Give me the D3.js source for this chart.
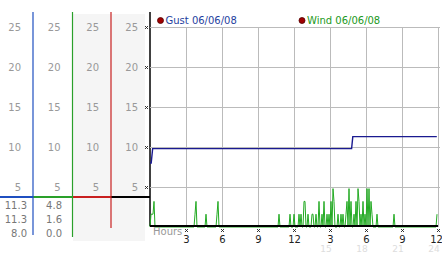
<!DOCTYPE html>
<html>
<head>
<meta charset="utf-8">
<script src="https://cdn.jsdelivr.net/npm/d3@7"></script>
<style>
body { margin: 0; background: #fff; }
text { font-family: "DejaVu Sans", Verdana, sans-serif; font-size: 10px; }
</style>
</head>
<body>
<div id="chart"></div>
<script>
// ---- data ----
var hourTicks = [3, 6, 9, 12, 15, 18, 21, 24];
var hourLabels = ["3", "6", "9", "12", "3", "6", "9", "12"];
var lateHours = [15, 18, 21, 24];
var lateLabels = ["15", "18", "21", "24"];
var yTicks = [5, 10, 15, 20, 25];

var legendNames = ["Gust 06/06/08", "Wind 06/06/08"];

// gust, hours and mph
var gustHours = [0, 0.1, 0.22, 16.8, 16.9, 23.9];
var gustValues = [8.0, 8.0, 9.8, 9.8, 11.3, 11.3];

// wind, one sample every 5 minutes (24 per row = 2 hours)
var windValues = [
  0,1.6,1.6,1.6,3.2,0,0,0,0,0,0,0,0,0,0,0,0,0,0,0,0,0,0,0,
  0,0,0,0,0,0,0,0,0,0,0,0,0,0,0,0,0,0,0,0,0,1.6,3.2,0,
  0,0,0,0,0,0,0,0,1.6,0,0,0,0,0,0,0,0,0,0,1.6,3.2,0,0,0,
  0,0,0,0,0,0,0,0,0,0,0,0,0,0,0,0,0,0,0,0,0,0,0,0,
  0,0,0,0,0,0,0,0,0,0,0,0,0,0,0,0,0,0,0,0,0,0,0,0,
  0,0,0,0,0,0,0,0,0,1.6,0,0,0,0,0,0,0,0,0,0,1.6,0,0,0,
  1.6,0,0,0,0,1.6,0,1.6,0,0,3.2,3.2,0,0,1.6,0,0,0,1.6,1.6,0,0,1.6,0,
  0,3.2,0,0,1.6,0,3.2,0,0,1.6,0,1.6,0,3.2,0,4.8,3.2,0,0,0,1.6,0,0,1.6,
  0,1.6,0,0,1.6,3.2,0,4.8,0,3.2,0,0,1.6,0,3.2,0,4.8,3.2,0,1.6,0,3.2,0,1.6,
  0,4.8,0,4.8,0,3.2,1.6,0,0,0,0,1.6,0,0,0,0,0,0,0,0,0,0,0,0,
  0,0,0,0,1.6,0,0,0,0,0,0,0,0,0,0,0,0,0,0,0,0,0,0,0,
  0,0,0,0,0,0,0,0,0,0,0,0,0,0,0,0,0,0,0,0,0,0,0,1.6
];

// readouts under the scale columns
var gustStats = ["11.3", "11.3", "8.0"];
var windStats = ["4.8", "1.6", "0.0"];

// ---- layout ----
var width = 442, height = 253;
var plot = {left: 150, right: 438, top: 27, bottom: 227};

var svg = d3.select("#chart")
    .append("svg")
    .attr("width", width)
    .attr("height", height);

var x = d3.scaleLinear().domain([0, 24]).range([plot.left, plot.right]);
var y = d3.scaleLinear().domain([0, 25]).range([plot.bottom, plot.top]);

// left side scale columns
var columns = [
  {right: 33,  color: "#1f4fc0", bottom: 235},
  {right: 72.5, color: "#2aa02a", bottom: 237},
  {right: 111, color: "#c82020", bottom: 228},
  {right: 150, color: "#000000", bottom: 226}
];

svg.append("rect")
    .attr("x", 73).attr("y", 14)
    .attr("width", 72).attr("height", 227)
    .attr("fill", "#f5f5f5");

columns.forEach(function(c, i) {
  var left = i == 0 ? 0 : columns[i - 1].right;
  // tick labels
  var ax = svg.append("g")
      .attr("transform", "translate(" + (c.right - 12) + ",0)")
      .call(d3.axisLeft(y).tickValues(yTicks).tickSize(0).tickPadding(0));
  ax.select(".domain").remove();
  ax.selectAll("text")
      .attr("fill", "#999")
      .style("font-size", "10px")
      .style("font-family", "DejaVu Sans, Verdana, sans-serif");
  // divider across the column
  svg.append("line")
      .attr("x1", left).attr("x2", c.right)
      .attr("y1", 197).attr("y2", 197)
      .attr("stroke", c.color)
      .attr("stroke-width", 2);
});

columns.forEach(function(c) {
  svg.append("line")
      .attr("x1", c.right).attr("x2", c.right)
      .attr("y1", 12).attr("y2", c.bottom)
      .attr("stroke", c.color)
      .attr("stroke-width", c.right == 150 ? 1.5 : 1.2);
});

// readouts
[gustStats, windStats].forEach(function(stats, k) {
  svg.selectAll(".stat" + k)
      .data(stats)
      .enter()
      .append("text")
      .attr("x", k == 0 ? 27 : 62)
      .attr("y", function(d, i) { return 208.5 + i * 14; })
      .attr("text-anchor", "end")
      .attr("fill", "#777")
      .text(function(d) { return d; });
});

// grid
svg.append("g")
    .selectAll("line")
    .data(yTicks)
    .enter()
    .append("line")
    .attr("x1", plot.left).attr("x2", plot.right + 2)
    .attr("y1", function(d) { return y(d) + 0.5; })
    .attr("y2", function(d) { return y(d) + 0.5; })
    .attr("stroke", "#bbb");

svg.append("g")
    .selectAll("line")
    .data(hourTicks)
    .enter()
    .append("line")
    .attr("x1", function(d) { return Math.round(x(d)) + 0.5; })
    .attr("x2", function(d) { return Math.round(x(d)) + 0.5; })
    .attr("y1", plot.top)
    .attr("y2", plot.bottom)
    .attr("stroke", "#bbb");

// tiny tick marks
function tickMark(cx, cy) {
  return "M" + (cx - 1.5) + "," + (cy - 1.5) + "L" + (cx + 1.5) + "," + (cy + 1.5) +
         "M" + (cx + 1.5) + "," + (cy - 1.5) + "L" + (cx - 1.5) + "," + (cy + 1.5);
}
svg.append("g")
    .selectAll("path")
    .data(yTicks)
    .enter()
    .append("path")
    .attr("d", function(d) { return tickMark(146.5, y(d) + 0.5); })
    .attr("stroke", "#222")
    .attr("stroke-width", 0.9);

svg.append("g")
    .selectAll("path")
    .data(hourTicks)
    .enter()
    .append("path")
    .attr("d", function(d) { return tickMark(Math.round(x(d)) + 0.5, 230.5); })
    .attr("stroke", "#222")
    .attr("stroke-width", 0.9);

// wind line
var windLine = d3.line()
    .x(function(d, i) { return x(i * 5 / 60); })
    .y(function(d) { return y(d); });

svg.append("path")
    .datum(windValues)
    .attr("d", windLine)
    .attr("fill", "none")
    .attr("stroke", "#22aa22")
    .attr("stroke-width", 1);

// x axis baseline
svg.append("line")
    .attr("x1", plot.left).attr("x2", plot.right)
    .attr("y1", y(0) - 1).attr("y2", y(0) - 1)
    .attr("stroke", "#000")
    .attr("stroke-width", 2);

// gust line
var gustLine = d3.line()
    .x(function(d, i) { return x(gustHours[i]); })
    .y(function(d) { return y(d); });

svg.append("path")
    .datum(gustValues)
    .attr("d", gustLine)
    .attr("fill", "none")
    .attr("stroke", "#1a1a90")
    .attr("stroke-width", 1.4);

// x labels
svg.append("text")
    .attr("x", 153).attr("y", 235)
    .attr("fill", "#999")
    .text("Hours");

svg.append("g")
    .selectAll("text")
    .data(hourTicks)
    .enter()
    .append("text")
    .attr("x", function(d) { return Math.min(x(d) + 0.5, width - 5.5); })
    .attr("y", 243)
    .attr("text-anchor", "middle")
    .attr("fill", "#222")
    .text(function(d, i) { return hourLabels[i]; });

svg.append("g")
    .selectAll("text")
    .data(lateHours)
    .enter()
    .append("text")
    .attr("x", function(d) { return Math.min(x(d) - 4, width - 6); })
    .attr("y", 252)
    .attr("text-anchor", "middle")
    .attr("fill", "#ddd")
    .style("font-size", "9px")
    .text(function(d, i) { return lateLabels[i]; });

// legend
var legendX = [160.5, 302];
var legendColors = ["#1f3fa0", "#229922"];
legendNames.forEach(function(name, i) {
  svg.append("circle")
      .attr("cx", legendX[i]).attr("cy", 20.5)
      .attr("r", 3)
      .attr("fill", "#a00000")
      .attr("stroke", "#500000")
      .attr("stroke-width", 0.8);
  svg.append("text")
      .attr("x", legendX[i] + 5).attr("y", 24)
      .attr("fill", legendColors[i])
      .text(name);
});
</script>
</body>
</html>
